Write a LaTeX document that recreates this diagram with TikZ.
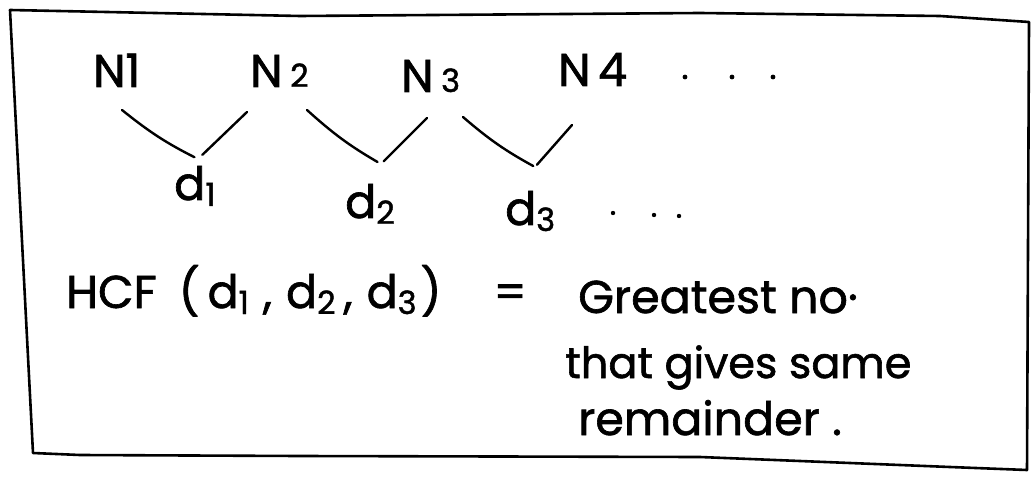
\documentclass[tikz,border=0pt]{standalone}
\usepackage{fontspec}
\setmainfont{Poppins}[FakeBold=1.4]
\usetikzlibrary{calc}

\newcommand{\lowdig}[1]{\raisebox{-6pt}{\fontsize{32}{34}\selectfont #1}}
\newcommand{\smalldig}[1]{{\fontsize{32}{34}\selectfont #1}}

\tikzset{
  hand/.style={font=\fontsize{46}{54}\selectfont, inner sep=0pt, anchor=base west},
  vline/.style={line width=2.4pt, line cap=round},
  boxline/.style={line width=2.6pt, line join=round}
}

\begin{document}
\begin{tikzpicture}[x=1pt,y=1pt]

\useasboundingbox (0,0) rectangle (1032,-494);

% frame
\draw[boxline] (10,-10) -- (300,-16) -- (700,-13) -- (940,-16) -- (1029,-22)
  -- (1027,-470) -- (950,-467) -- (800,-461) -- (700,-457) -- (300,-456)
  -- (80,-455) -- (33,-453) -- cycle;

% numbers
\node (n1) at (93,-87) [hand]{N1};
\node (n2) at (250,-87) [hand]{N\,\smalldig{2}};
\node (n3) at (401,-92) [hand]{N\,\smalldig{3}};
\node (n4) at (558,-86) [hand]{N\,4};
\foreach \x/\y in {685/77,732/77,773/77}
  \fill (\x,-\y) circle (2.4);

% differences
\node (d1) at (174,-200) [hand]{d\lowdig{1}};
\node (d2) at (345,-218) [hand]{d\lowdig{2}};
\node (d3) at (505,-225) [hand]{d\lowdig{3}};
\foreach \x/\y in {613/213,654/215,679/216}
  \fill (\x,-\y) circle (2.2);

\coordinate (v1) at (198,-159);
\coordinate (v2) at (381,-164);
\coordinate (v3) at (535,-167);

\draw[vline, shorten >=4pt] ([shift={(29,-23)}]n1.base west) to[bend right=6] (v1);
\draw[vline, shorten >=6pt] ([shift={(-3,-25)}]n2.base west) -- (v1);
\draw[vline, shorten >=4pt] ([shift={(57,-23)}]n2.base west) to[bend right=6] (v2);
\draw[vline, shorten >=4pt] ([shift={(26,-26)}]n3.base west) -- (v2);
\draw[vline, shorten >=2pt] ([shift={(62,-25)}]n3.base west) to[bend right=6] (v3);
\draw[vline, shorten >=3pt] ([shift={(14,-39)}]n4.base west) -- (v3);

% result
\node (hcf) at (66,-308) [hand]{HCF\hspace{22pt}(\hspace{8pt}d\lowdig{1}\hspace{14pt},\hspace{14pt}d\lowdig{2}\hspace{8pt},\hspace{14pt}d\lowdig{3}\hspace{4pt})\hspace{52pt}=};
\node (txt1) at (578,-313) [hand]{Greatest no·};
\node (txt2) at (565,-378) [hand, font=\fontsize{43}{50}\selectfont]{that gives same};
\node (txt3) at (578,-435) [hand]{remainder .};

\end{tikzpicture}
\end{document}
